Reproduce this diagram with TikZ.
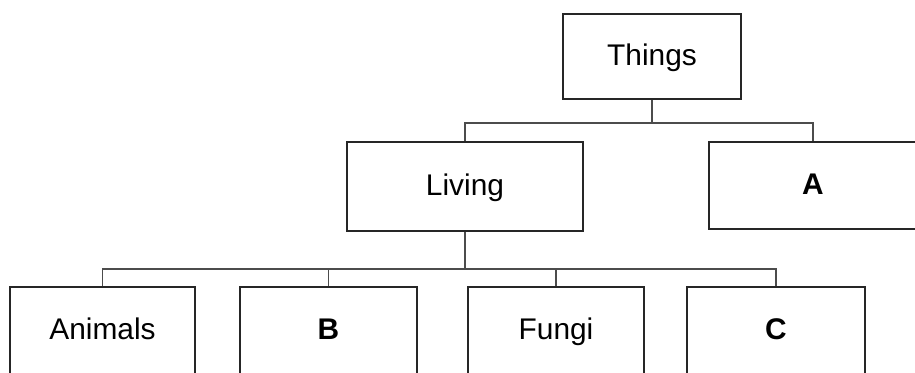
\documentclass[tikz,border=0pt]{standalone}
\usepackage{fontspec}
\setmainfont{Liberation Sans}
\begin{document}
\begin{tikzpicture}[x=0.02cm,y=-0.02cm,
  box/.style={draw=black!85,line width=1.1pt,inner sep=0pt,fill=white,
    text height=12.2pt,text depth=2pt,font=\fontsize{17}{20}\selectfont},
  letter/.style={box,font=\fontsize{17}{20}\selectfont\bfseries},
  link/.style={draw=black!70,line width=0.9pt}]
\clip (0,0) rectangle (915,372);

\node[box,minimum width=3.56cm,minimum height=1.7cm] (things) at (652,56.5) {Things};

\node[box,minimum width=4.72cm,minimum height=1.78cm] (living) at (465,186.5) {Living};
\node[letter,minimum width=4.16cm,minimum height=1.74cm] (a) at (813,185.5) {A};

\node[box,minimum width=3.7cm,minimum height=1.76cm] (animals) at (102.5,331) {Animals};
\node[letter,minimum width=3.54cm,minimum height=1.76cm] (b) at (328.5,331) {B};
\node[box,minimum width=3.52cm,minimum height=1.76cm] (fungi) at (556,331) {Fungi};
\node[letter,minimum width=3.56cm,minimum height=1.76cm] (c) at (776,331) {C};

\coordinate (top) at (652,123);
\coordinate (mid) at (465,269);

\draw[link] (things.south) -- (top);
\draw[link] (living.north) |- (top) -| (a.north);

\draw[link] (living.south) -- (mid);
\draw[link] (animals.north) |- (mid) -| (c.north);
\draw[link] (b.north) -- (b.north |- mid);
\draw[link] (fungi.north) -- (fungi.north |- mid);
\end{tikzpicture}
\end{document}
